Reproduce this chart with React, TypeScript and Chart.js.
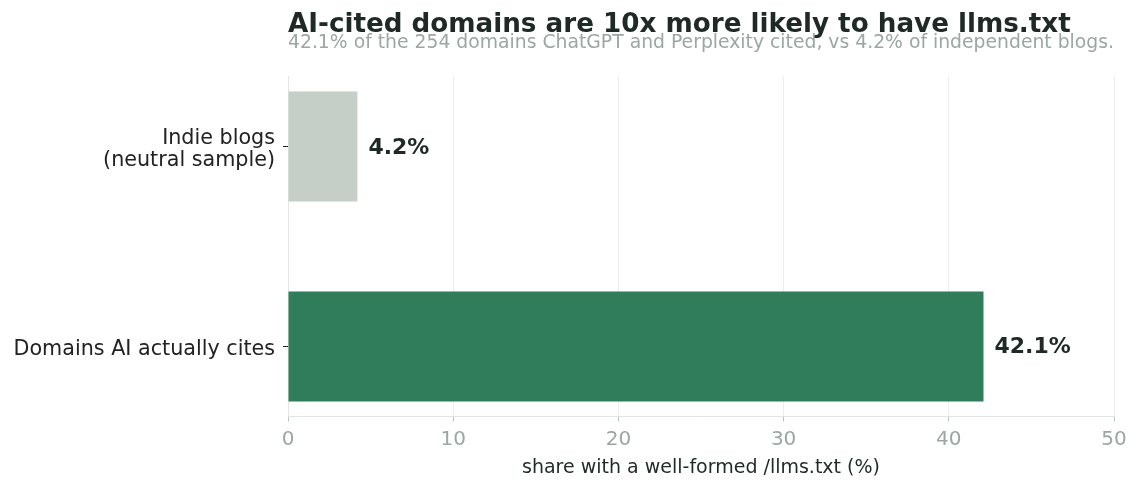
import { useEffect, useRef } from 'react';
import { Chart, registerables } from 'chart.js';

Chart.register(...registerables);

const categories = ['Domains AI actually cites', 'Indie blogs\n(neutral sample)'];
const shares = [42.1, 4.2];
const barColors = ['#2f7d5b', '#c5cec7'];

const xTicks = [0, 10, 20, 30, 40, 50];

const titleText = 'AI-cited domains are 10x more likely to have llms.txt';
const subtitleText =
  '42.1% of the 254 domains ChatGPT and Perplexity cited, vs 4.2% of independent blogs.';
const xAxisTitle = 'share with a well-formed /llms.txt (%)';

const FONT = "'DejaVu Sans', sans-serif";
const DARK = '#1f2a26';
const MUTED = '#9ba7a1';

// value labels at the end of each bar
const barValueLabels = {
  id: 'barValueLabels',
  afterDatasetsDraw(chart: any) {
    const { ctx } = chart;
    const meta = chart.getDatasetMeta(0);
    ctx.save();
    ctx.font = `bold 22px ${FONT}`;
    ctx.fillStyle = DARK;
    ctx.textAlign = 'left';
    ctx.textBaseline = 'alphabetic';
    meta.data.forEach((bar: any, i: number) => {
      ctx.fillText(`${shares[i].toFixed(1)}%`, bar.x + 11, bar.y + 7);
    });
    ctx.restore();
  },
};

export default function App() {
  const canvasRef = useRef<HTMLCanvasElement | null>(null);
  const chartRef = useRef<Chart | null>(null);

  useEffect(() => {
    document.body.style.margin = '0';
    if (!canvasRef.current) return;

    if (chartRef.current) {
      chartRef.current.destroy();
      chartRef.current = null;
    }

    Chart.defaults.font.family = FONT;

    const chart = new Chart(canvasRef.current, {
      type: 'bar',
      data: {
        datasets: [
          {
            data: shares.map((v, i) => ({ x: v, y: i })),
            backgroundColor: barColors,
            borderWidth: 0,
            barPercentage: 0.55,
            categoryPercentage: 1,
          },
        ],
      },
      options: {
        indexAxis: 'y',
        responsive: false,
        animation: false,
        layout: { padding: { left: 0, right: 26, top: 0, bottom: 0 } },
        scales: {
          x: {
            type: 'linear',
            min: 0,
            max: 50,
            afterBuildTicks: (scale: any) => {
              scale.ticks = xTicks.map((value) => ({ value }));
            },
            grid: {
              color: '#ececec',
              tickColor: '#b9c2bd',
              tickLength: 5,
              lineWidth: 1,
            },
            border: { color: '#e2e6e3', width: 1 },
            ticks: {
              color: MUTED,
              padding: 6,
              font: { size: 20, lineHeight: 1.2 },
            },
            title: {
              display: true,
              text: xAxisTitle,
              color: DARK,
              font: { size: 19, lineHeight: 0.9 },
              padding: { top: 2.5, bottom: 11 },
            },
          },
          y: {
            type: 'linear',
            min: -0.35,
            max: 1.35,
            offset: false,
            afterBuildTicks: (scale: any) => {
              scale.ticks = categories.map((_, i) => ({ value: i }));
            },
            afterFit: (scale: any) => {
              scale.width = 288;
            },
            grid: {
              offset: false,
              drawOnChartArea: false,
              tickColor: '#222',
              tickLength: 5,
            },
            border: { color: '#e2e6e3', width: 1 },
            ticks: {
              color: '#222',
              padding: 8,
              labelOffset: 3,
              font: { size: 20.7, lineHeight: 1.05 },
              callback: (value: any) => {
                const label = categories[Number(value)];
                return label ? label.split('\n') : '';
              },
            },
          },
        },
        plugins: {
          legend: { display: false },
          tooltip: { enabled: false },
          title: {
            display: true,
            text: titleText,
            align: 'start',
            fullSize: false,
            color: DARK,
            font: { size: 26.2, weight: 'bold', lineHeight: 0.8 },
            padding: { top: 14.6, bottom: 0 },
          },
          subtitle: {
            display: true,
            text: subtitleText,
            align: 'start',
            fullSize: false,
            color: MUTED,
            font: { size: 19, lineHeight: 0.8 },
            padding: { top: 0, bottom: 25.8 },
          },
        },
      },
      plugins: [barValueLabels],
    } as any);
    chartRef.current = chart;

    return () => {
      if (chartRef.current) {
        chartRef.current.destroy();
        chartRef.current = null;
      }
    };
  }, []);

  return (
    <div style={{ width: 1140, height: 488, background: '#ffffff' }}>
      <canvas ref={canvasRef} width={1140} height={488} />
    </div>
  );
}
